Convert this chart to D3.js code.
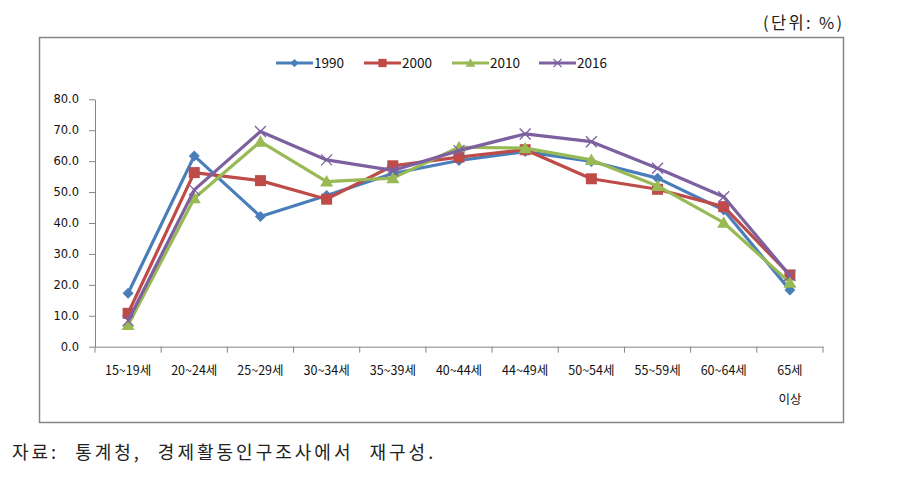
<!DOCTYPE html>
<html><head><meta charset="utf-8">
<script src="https://cdn.jsdelivr.net/npm/d3@7"></script>
<style>body{margin:0;background:#fff;} svg{display:block;}</style>
</head><body>
<svg id="c" width="913" height="477"></svg>
<script>
const categories = ["15~19세","20~24세","25~29세","30~34세","35~39세","40~44세","44~49세","50~54세","55~59세","60~64세","65세|이상"];
const s1990 = [17.3,61.7,42.1,48.9,56.0,60.2,63.1,59.9,54.5,44.2,18.3];
const s2000 = [10.8,56.3,53.7,47.7,58.5,61.3,63.7,54.3,50.9,45.3,23.2];
const s2010 = [7.0,48.0,66.3,53.4,54.5,64.5,64.2,60.4,52.0,40.1,20.7];
const s2016 = [8.4,50.7,69.6,60.4,57.0,63.4,68.8,66.3,57.7,48.5,23.0];
const yTicks = [0,10,20,30,40,50,60,70,80];
const seriesNames = ["1990","2000","2010","2016"];

const series = [
  {name:seriesNames[0], values:s1990, color:"#4A7EBB", marker:"diamond"},
  {name:seriesNames[1], values:s2000, color:"#BE4B48", marker:"square"},
  {name:seriesNames[2], values:s2010, color:"#98B954", marker:"triangle"},
  {name:seriesNames[3], values:s2016, color:"#7D60A0", marker:"x"}
];

const svg = d3.select("#c");
const font = "'Noto Sans CJK KR', 'Noto Sans', sans-serif";

// outer box
svg.append("rect").attr("x",39.5).attr("y",37.5).attr("width",804).attr("height",385)
  .attr("fill","#fff").attr("stroke","#868686").attr("stroke-width",1.5);

svg.append("text").attr("x",763).attr("y",29)
  .attr("font-family",font).attr("font-size",16.5).attr("fill","#222")
  .attr("textLength",79).attr("lengthAdjust","spacing").text("(단위: %)");

const x = d3.scaleBand().domain(categories).range([95,823]);
const y = d3.scaleLinear().domain([0,80]).range([346.7,99.3]);

// y axis
const yAxis = d3.axisLeft(y).tickValues(yTicks).tickFormat(d3.format(".1f")).tickSize(6).tickSizeOuter(0);
const gy = svg.append("g").attr("transform","translate(95,0)").call(yAxis);
gy.select(".domain").attr("stroke","#868686");
gy.selectAll(".tick line").attr("stroke","#868686");
gy.selectAll("text").attr("font-family","'DejaVu Sans', sans-serif").attr("font-size",11.5).attr("fill","#111").attr("x",-16);

// x axis
const xAxis = d3.axisBottom(x).tickSize(0).tickFormat("");
const gx = svg.append("g").attr("transform","translate(0,346.7)").call(xAxis);
gx.select(".domain").attr("stroke","#868686");
const bnd = [...categories.map(c=>x(c)), x.range()[1]];
gx.selectAll(".bt").data(bnd).enter().append("line").attr("class","bt")
  .attr("x1",d=>d).attr("x2",d=>d).attr("y1",0).attr("y2",6).attr("stroke","#868686");
categories.forEach(c=>{
  const parts = c.split("|");
  parts.forEach((p,i)=>{
    svg.append("text").attr("x",x(c)+x.bandwidth()/2).attr("y",375+i*29)
      .attr("text-anchor","middle").attr("font-family",font).attr("font-size",12.5)
      .attr("fill","#111").text(p);
  });
});

function drawMarker(g, type, color, cx, cy, k){
  k = k || 1;
  if(type==="diamond"){
    const r=5.5*k;
    g.append("path").attr("d",`M${cx},${cy-r}L${cx+r},${cy}L${cx},${cy+r}L${cx-r},${cy}Z`).attr("fill",color);
  } else if(type==="square"){
    const r=5.5*k;
    g.append("rect").attr("x",cx-r).attr("y",cy-r).attr("width",2*r).attr("height",2*r).attr("fill",color);
  } else if(type==="triangle"){
    g.append("path").attr("d",`M${cx},${cy-6.5*k}L${cx+6.5*k},${cy+5*k}L${cx-6.5*k},${cy+5*k}Z`).attr("fill",color);
  } else {
    const r=5.5*k;
    g.append("path").attr("d",`M${cx-r},${cy-r}L${cx+r},${cy+r}M${cx+r},${cy-r}L${cx-r},${cy+r}`)
      .attr("stroke",color).attr("stroke-width",1.3).attr("fill","none");
  }
}

const line = d3.line().x((d,i)=>x(categories[i])+x.bandwidth()/2).y(d=>y(d));
series.forEach(s=>{
  const g = svg.append("g");
  g.append("path").attr("d",line(s.values)).attr("fill","none").attr("stroke",s.color)
    .attr("stroke-width",3.2).attr("stroke-linejoin","round");
  s.values.forEach((v,i)=>drawMarker(g,s.marker,s.color,x(categories[i])+x.bandwidth()/2,y(v)));
});

// legend
const legX = [276,364,452,539];
series.forEach((s,i)=>{
  const g = svg.append("g");
  const lx = legX[i], ly = 63;
  g.append("line").attr("x1",lx).attr("x2",lx+37).attr("y1",ly).attr("y2",ly).attr("stroke",s.color).attr("stroke-width",3);
  drawMarker(g,s.marker,s.color,lx+18.5,ly,0.75);
  g.append("text").attr("x",lx+38).attr("y",ly+5).attr("font-family",font).attr("font-size",13.5)
    .attr("fill","#111").text(s.name);
});

svg.append("text").attr("x",12).attr("y",459).attr("font-family",font).attr("font-size",18)
  .attr("fill","#222").attr("letter-spacing",3).attr("word-spacing",9)
  .text("자료: 통계청, 경제활동인구조사에서 재구성.");
</script>
</body></html>
